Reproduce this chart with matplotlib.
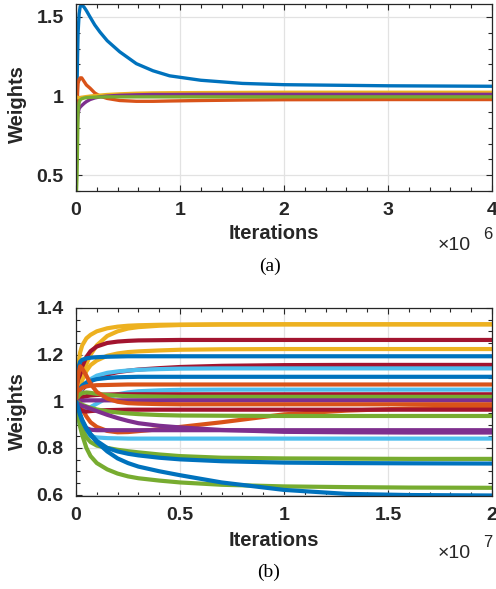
import numpy as np
import matplotlib
matplotlib.use("Agg")
import matplotlib.pyplot as plt
from matplotlib.ticker import FixedLocator, FixedFormatter, MultipleLocator

# ---------------- Panel (a) data (x in units of 1e6 iterations) ----------------
a_x = [0, 0.005, 0.01, 0.015, 0.02, 0.03, 0.04, 0.055, 0.08, 0.1, 0.135, 0.18, 0.23,
       0.3, 0.42, 0.58, 0.74, 0.9, 1.2, 1.6, 2.0, 3.0, 4.0]
a_blue = [1.0, 1.0, 1.05, 1.25, 1.4, 1.52, 1.565, 1.578, 1.56, 1.54, 1.5, 1.45, 1.405,
          1.35, 1.28, 1.205, 1.16, 1.128, 1.1, 1.08, 1.072, 1.065, 1.062]
a_orange = [0.5, 0.7, 0.9, 1.02, 1.08, 1.105, 1.115, 1.115, 1.09, 1.07, 1.05, 1.02, 1.0,
            0.985, 0.972, 0.967, 0.967, 0.969, 0.972, 0.975, 0.977, 0.978, 0.978]
a_yellow = [1.0, 0.995, 0.99, 0.99, 0.99, 0.99, 0.99, 0.992, 0.995, 0.997, 1.0, 1.003, 1.006,
            1.01, 1.014, 1.018, 1.02, 1.021, 1.022, 1.023, 1.024, 1.024, 1.024]
a_purple = [0.5, 0.6, 0.75, 0.85, 0.89, 0.92, 0.93, 0.94, 0.955, 0.965, 0.978, 0.988, 0.995,
            1.0, 1.005, 1.008, 1.01, 1.01, 1.011, 1.011, 1.011, 1.011, 1.011]
a_green = [0.4, 0.4, 0.5, 0.7, 0.9, 0.96, 0.975, 0.983, 0.988, 0.99, 0.992, 0.993, 0.994,
           0.995, 0.995, 0.995, 0.995, 0.995, 0.995, 0.995, 0.995, 0.995, 0.995]
a_xticks = [0, 1, 2, 3, 4]
a_xticklabels = ["0", "1", "2", "3", "4"]
a_yticks = [0.5, 1.0, 1.5]
a_yticklabels = ["0.5", "1", "1.5"]

# ---------------- Panel (b) data (x in units of 1e7 iterations) ----------------
b_x = [0, 0.005, 0.01, 0.02, 0.03, 0.05, 0.07, 0.1, 0.15, 0.2, 0.25, 0.3, 0.4, 0.5,
       0.7, 1.0, 1.3, 1.6, 2.0]
b_yellow1 = [1, 1.08, 1.15, 1.21, 1.24, 1.27, 1.285, 1.30, 1.313, 1.32, 1.324, 1.326,
             1.328, 1.329, 1.33, 1.33, 1.33, 1.33, 1.33]
b_yellow2 = [1, 1.02, 1.04, 1.08, 1.11, 1.16, 1.2, 1.24, 1.28, 1.30, 1.312, 1.318,
             1.324, 1.327, 1.329, 1.33, 1.33, 1.33, 1.33]
b_darkred1 = [1, 1.03, 1.06, 1.11, 1.15, 1.19, 1.215, 1.235, 1.25, 1.256, 1.259, 1.261,
              1.262, 1.263, 1.263, 1.263, 1.263, 1.263, 1.263]
b_yellow3 = [1, 1.01, 1.03, 1.06, 1.09, 1.13, 1.155, 1.175, 1.195, 1.205, 1.211, 1.214,
             1.218, 1.221, 1.223, 1.224, 1.224, 1.224, 1.224]
b_blue1 = [1, 1.08, 1.14, 1.17, 1.178, 1.184, 1.187, 1.189, 1.191, 1.192, 1.193, 1.193,
           1.193, 1.193, 1.193, 1.193, 1.193, 1.193, 1.193]
b_darkred2 = [1, 1.01, 1.02, 1.035, 1.05, 1.07, 1.085, 1.1, 1.115, 1.125, 1.131, 1.136,
              1.142, 1.147, 1.152, 1.155, 1.156, 1.156, 1.156]
b_lightblue1 = [1, 1.01, 1.02, 1.04, 1.055, 1.08, 1.095, 1.11, 1.122, 1.128, 1.132, 1.135,
                1.138, 1.14, 1.141, 1.141, 1.141, 1.141, 1.141]
b_blue2 = [1, 1.02, 1.035, 1.055, 1.068, 1.08, 1.088, 1.095, 1.1, 1.103, 1.104, 1.105,
           1.105, 1.105, 1.105, 1.105, 1.105, 1.105, 1.105]
b_orange1 = [1, 1.02, 1.035, 1.05, 1.058, 1.064, 1.067, 1.069, 1.07, 1.071, 1.072, 1.072,
             1.072, 1.072, 1.072, 1.072, 1.072, 1.072, 1.072]
b_lightblue2 = [1, 0.99, 0.982, 0.972, 0.967, 0.966, 0.975, 0.99, 1.015, 1.03, 1.038, 1.043,
                1.047, 1.049, 1.05, 1.05, 1.05, 1.05, 1.05]
b_darkred3 = [1, 1.005, 1.01, 1.015, 1.018, 1.022, 1.025, 1.027, 1.029, 1.03, 1.03, 1.03,
              1.03, 1.03, 1.03, 1.03, 1.03, 1.03, 1.03]
b_green1 = [1, 1.01, 1.02, 1.03, 1.035, 1.038, 1.036, 1.032, 1.027, 1.024, 1.022, 1.021,
            1.02, 1.019, 1.019, 1.019, 1.019, 1.019, 1.019]
b_purple1 = [1, 1.0, 1.0, 1.002, 1.003, 1.004, 1.004, 1.004, 1.004, 1.004, 1.004, 1.004,
             1.004, 1.004, 1.004, 1.004, 1.004, 1.004, 1.004]
b_orange2 = [1, 1.06, 1.11, 1.15, 1.14, 1.11, 1.075, 1.04, 1.012, 0.998, 0.992, 0.99,
             0.988, 0.987, 0.987, 0.987, 0.987, 0.987, 0.987]
b_orange3 = [1, 0.995, 0.99, 0.975, 0.965, 0.935, 0.91, 0.89, 0.873, 0.867, 0.868, 0.872,
             0.88, 0.89, 0.91, 0.944, 0.96, 0.969, 0.975]
b_darkred4 = [1, 0.99, 0.98, 0.965, 0.958, 0.956, 0.958, 0.96, 0.962, 0.963, 0.964, 0.964,
              0.964, 0.964, 0.964, 0.964, 0.964, 0.964, 0.964]
b_green2 = [1, 0.998, 0.995, 0.99, 0.985, 0.978, 0.972, 0.965, 0.957, 0.952, 0.948, 0.945,
            0.941, 0.939, 0.938, 0.937, 0.937, 0.937, 0.937]
b_purple2 = [1, 0.995, 0.99, 0.985, 0.98, 0.975, 0.968, 0.958, 0.942, 0.928, 0.916, 0.906,
             0.895, 0.888, 0.877, 0.869, 0.867, 0.866, 0.866]
b_purple3 = [1, 0.97, 0.945, 0.915, 0.9, 0.885, 0.878, 0.876, 0.876, 0.876, 0.876, 0.876,
             0.876, 0.876, 0.876, 0.876, 0.876, 0.876, 0.876]
b_lightblue3 = [1, 0.96, 0.93, 0.895, 0.875, 0.858, 0.85, 0.845, 0.842, 0.841, 0.84, 0.84,
                0.84, 0.84, 0.84, 0.84, 0.84, 0.84, 0.84]
b_green3 = [1, 0.975, 0.95, 0.91, 0.88, 0.845, 0.825, 0.81, 0.8, 0.792, 0.786, 0.781,
            0.772, 0.765, 0.758, 0.755, 0.754, 0.753, 0.753]
b_blue3 = [1, 0.985, 0.97, 0.945, 0.92, 0.885, 0.86, 0.83, 0.8, 0.785, 0.775, 0.768,
           0.758, 0.751, 0.743, 0.737, 0.735, 0.734, 0.733]
b_green4 = [1, 0.965, 0.94, 0.89, 0.855, 0.8, 0.765, 0.735, 0.708, 0.69, 0.678, 0.67,
            0.66, 0.652, 0.642, 0.635, 0.632, 0.63, 0.629]
b_blue4 = [1, 0.985, 0.97, 0.94, 0.915, 0.88, 0.855, 0.825, 0.785, 0.755, 0.735, 0.72,
           0.7, 0.683, 0.652, 0.62, 0.603, 0.598, 0.596]
b_xticks = [0, 0.5, 1.0, 1.5, 2.0]
b_xticklabels = ["0", "0.5", "1", "1.5", "2"]
b_yticks = [0.6, 0.8, 1.0, 1.2, 1.4]
b_yticklabels = ["0.6", "0.8", "1", "1.2", "1.4"]

# MATLAB default colours
C_BLUE = "#0072BD"
C_ORANGE = "#D95319"
C_YELLOW = "#EDB120"
C_PURPLE = "#7E2F8E"
C_GREEN = "#77AC30"
C_LBLUE = "#4DBEEE"
C_DRED = "#A2142F"

plt.rcParams["font.family"] = ["Liberation Sans", "DejaVu Sans"]

W, H = 496, 589
fig = plt.figure(figsize=(W / 100, H / 100), dpi=100)
axA = fig.add_axes([76 / W, 1 - 191 / H, 416 / W, 187 / H])
axB = fig.add_axes([76 / W, 1 - 495.5 / H, 416 / W, 187.5 / H])

SPINE = "#262626"


def style(ax, xmaj, xlab, xminor, ymaj, ylab, yminor, scale):
    ax.set_axisbelow(True)
    ax.xaxis.set_major_locator(FixedLocator([v * scale for v in xmaj]))
    ax.xaxis.set_major_formatter(FixedFormatter(xlab))
    ax.xaxis.set_minor_locator(MultipleLocator(xminor * scale))
    ax.yaxis.set_major_locator(FixedLocator(ymaj))
    ax.yaxis.set_major_formatter(FixedFormatter(ylab))
    ax.yaxis.set_minor_locator(MultipleLocator(yminor))
    ax.tick_params(which="both", direction="in", top=True, right=True, colors=SPINE,
                   width=0.8)
    ax.tick_params(axis="x", which="major", length=4.5, pad=8, labelsize=14)
    ax.tick_params(axis="y", which="major", length=4.5, pad=9, labelsize=14)
    ax.tick_params(which="minor", length=3)
    for lab in ax.get_xticklabels() + ax.get_yticklabels():
        lab.set_fontweight("bold")
    for s in ax.spines.values():
        s.set_color(SPINE)
        s.set_linewidth(0.9)
    ax.grid(True, which="major", color="#e2e2e2", linewidth=0.9)


# ---- panel (a)
xa = np.array(a_x) * 1e6
for ys, c in [(a_blue, C_BLUE), (a_orange, C_ORANGE), (a_yellow, C_YELLOW),
              (a_purple, C_PURPLE), (a_green, C_GREEN)]:
    axA.plot(xa, ys, color=c, lw=2.4, solid_capstyle="butt")
axA.set_xlim(0, 4e6)
axA.set_ylim(0.4, 1.582)
style(axA, a_xticks, a_xticklabels, 0.2, a_yticks, a_yticklabels, 0.1, 1e6)

# ---- panel (b)
xb = np.array(b_x) * 1e7
b_curves = [
    (b_yellow1, C_YELLOW), (b_yellow2, C_YELLOW), (b_darkred1, C_DRED),
    (b_yellow3, C_YELLOW), (b_blue1, C_BLUE), (b_darkred2, C_DRED),
    (b_lightblue1, C_LBLUE), (b_blue2, C_BLUE), (b_orange1, C_ORANGE),
    (b_lightblue2, C_LBLUE), (b_darkred3, C_DRED), (b_green1, C_GREEN),
    (b_purple1, C_PURPLE), (b_orange2, C_ORANGE), (b_orange3, C_ORANGE),
    (b_darkred4, C_DRED), (b_green2, C_GREEN), (b_purple2, C_PURPLE),
    (b_purple3, C_PURPLE), (b_lightblue3, C_LBLUE), (b_green3, C_GREEN),
    (b_blue3, C_BLUE), (b_green4, C_GREEN), (b_blue4, C_BLUE),
]
for ys, c in b_curves:
    axB.plot(xb, ys, color=c, lw=3.0, solid_capstyle="butt")
axB.set_xlim(0, 2e7)
axB.set_ylim(0.596, 1.4)
style(axB, b_xticks, b_xticklabels, 0.1, b_yticks, b_yticklabels, 0.05, 1e7)

# ---- labels
def px(x, y):
    return x / W, 1 - y / H

lab_kw = dict(fontsize=14.5, fontweight="bold", color=SPINE, ha="center", va="center")
fig.text(*px(17.5, 104), "Weights", rotation=90, **lab_kw)
fig.text(*px(17.5, 411), "Weights", rotation=90, **lab_kw)
fig.text(*px(274, 233), "Iterations", **lab_kw)
fig.text(*px(274, 541), "Iterations", **lab_kw)

exp_kw = dict(fontsize=14, color=SPINE, ha="left", va="baseline")
fig.text(*px(438, 250), "\u00d710", **exp_kw)
fig.text(*px(483, 239), "6", fontsize=12, color=SPINE, ha="left", va="baseline")
fig.text(*px(438, 558), "\u00d710", **exp_kw)
fig.text(*px(483, 547), "7", fontsize=12, color=SPINE, ha="left", va="baseline")

cap_kw = dict(fontsize=14, color="black", ha="center", va="center",
              family=["Liberation Serif", "DejaVu Serif"])
fig.text(*px(270, 266), "(a)", **cap_kw)
fig.text(*px(269, 572), "(b)", **cap_kw)

fig.savefig("out.png", dpi=100)
